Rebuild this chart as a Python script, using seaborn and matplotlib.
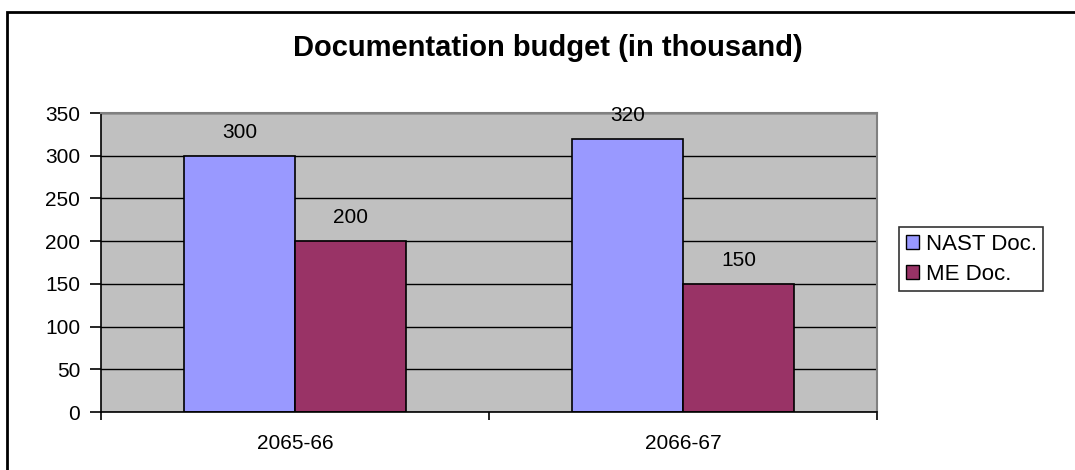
import pandas as pd
import seaborn as sns
import matplotlib.pyplot as plt
from matplotlib.patches import Rectangle

# data
years = ['2065-66', '2066-67']
nast = [300, 320]
me = [200, 150]
series = ['NAST Doc.', 'ME Doc.']

df = pd.DataFrame({
    'year': years * 2,
    'doc': [series[0]] * 2 + [series[1]] * 2,
    'value': nast + me,
})

sns.set_style('white')
plt.rcParams['font.family'] = ['Liberation Sans', 'DejaVu Sans']
plt.rcParams['text.color'] = 'black'
plt.rcParams['xtick.color'] = 'black'
plt.rcParams['ytick.color'] = 'black'

fig = plt.figure(figsize=(10.75, 4.7), dpi=100)
ax = fig.add_axes([101 / 1075, 58 / 470, 776 / 1075, 299 / 470])

sns.barplot(data=df, x='year', y='value', hue='doc', hue_order=series,
            palette=['#9999FF', '#993366'], width=0.5714, gap=0,
            edgecolor='black', linewidth=1.2, saturation=1, ax=ax, legend=False)

for c in ax.containers:
    ax.bar_label(c, padding=10, fontsize=15, color='black')

ax.set_facecolor('#C0C0C0')
ax.set_xlim(-0.5, 1.5)
ax.set_ylim(0, 350)
ax.set_yticks(range(0, 351, 50))
ax.yaxis.grid(True, color='black', lw=1)
ax.set_axisbelow(True)
ax.set_xlabel('')
ax.set_ylabel('')

# category boundary ticks, labels in the middle
ax.set_xticks([-0.5, 0.5, 1.5])
ax.set_xticklabels([])
ax.set_xticks([0, 1], minor=True)
ax.set_xticklabels(years, minor=True)
ax.tick_params(axis='x', which='major', direction='out', length=6, width=1.2, color='black', bottom=True)
ax.tick_params(axis='x', which='minor', length=0, pad=16, labelsize=15)
ax.tick_params(axis='y', direction='out', length=8, width=1.2, color='black', left=True, labelsize=15, pad=7)

for s in ['left', 'bottom']:
    ax.spines[s].set_color('black')
    ax.spines[s].set_linewidth(1.2)
for s in ['top', 'right']:
    ax.spines[s].set_color('#808080')
    ax.spines[s].set_linewidth(1.5)

fig.text(548 / 1075, 1 - 48 / 470, 'Documentation budget (in thousand)', ha='center', va='center',
         fontsize=21, fontweight='bold')

handles = [Rectangle((0, 0), 1, 1, facecolor=c, edgecolor='black', lw=1)
           for c in ['#9999FF', '#993366']]
leg = fig.legend(handles, series, loc='upper left', bbox_to_anchor=(899 / 1075, 1 - 227 / 470),
                 fontsize=16, frameon=True, fancybox=False, edgecolor='black',
                 handlelength=0.6, handleheight=0.6, handletextpad=0.3,
                 borderpad=0.3, labelspacing=0.4, borderaxespad=0)
leg.get_frame().set_linewidth(1.2)

# chart border
fig.patches.append(Rectangle((7 / 1075, -0.1), 1.2, 1.1 - 12 / 470, transform=fig.transFigure,
                             fill=False, edgecolor='black', lw=2))

fig.savefig('out.png', dpi=100)
